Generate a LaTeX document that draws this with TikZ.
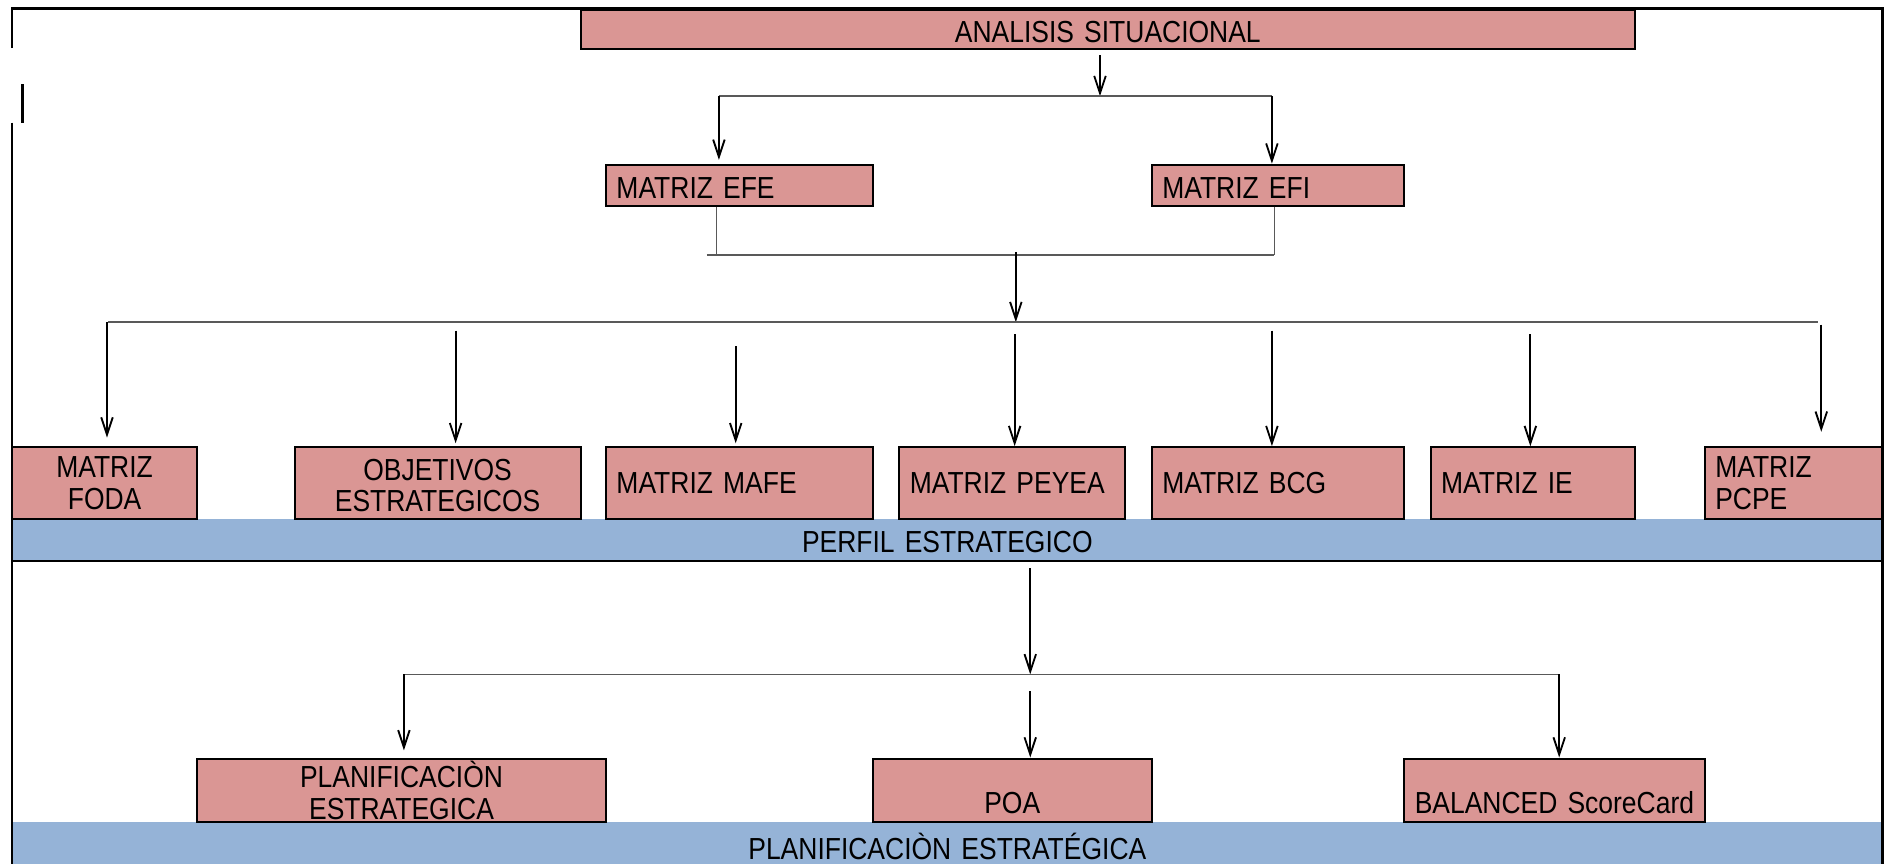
\documentclass[tikz,border=0pt]{standalone}
\usepackage{fontspec}
\setmainfont{Liberation Sans}
\newfontfamily\angosta[FakeStretch=0.87, WordSpace=0.8]{Liberation Sans}
\usetikzlibrary{arrows.meta, positioning, calc}
\definecolor{rojocaja}{RGB}{218,150,148}
\definecolor{azulbarra}{RGB}{149,179,215}
\tikzset{
  caja/.style={draw, line width=0.6pt, fill=rojocaja, inner xsep=0.11cm, inner ysep=0pt, font=\angosta\fontsize{9}{9.25}\selectfont},
  barra/.style={fill=azulbarra, inner xsep=0.11cm, inner ysep=0pt, text width=19.23cm, align=center, font=\angosta\fontsize{9}{9.25}\selectfont},
  flecha/.style={-{Straight Barb[length=1.8mm,width=1.2mm]}, line width=0.55pt},
  linea/.style={black!65, line width=0.45pt},
  marco/.style={line width=0.8pt},
}

\begin{document}
\begin{tikzpicture}
\useasboundingbox (0,0) rectangle (19.6,8.9875);

% barras azules
\node[barra, text height=0.35cm, text depth=0.075cm] (perfil) at (9.85,3.375) {PERFIL ESTRATEGICO};
\node[barra, text height=0.3875cm, text depth=0.05cm] (planbar) at (9.85,0.21875) {PLANIFICACIÒN ESTRATÉGICA};

% cajas
\node[caja, text width=10.7425cm, align=center, text height=0.3375cm, text depth=0.075cm] (analisis) at (11.519,8.681) {ANALISIS SITUACIONAL};
\node[caja, text width=2.555cm, align=left, text height=0.355cm, text depth=0.07cm] (efe) at (7.6875,7.0625) {MATRIZ EFE};
\node[caja, text width=2.405cm, align=left, text height=0.355cm, text depth=0.07cm] (efi) at (13.2875,7.0625) {MATRIZ EFI};

\node[caja, text width=1.705cm, align=center, minimum height=0.75cm] (foda) at (1.0875,3.9625) {MATRIZ\\FODA};
\node[caja, text width=2.755cm, align=center, text height=0.3425cm, text depth=0.4075cm] (obj) at (4.55,3.9625) {OBJETIVOS\\ESTRATEGICOS};
\node[caja, text width=2.555cm, align=left, minimum height=0.75cm] (mafe) at (7.6875,3.9625) {MATRIZ MAFE};
\node[caja, text width=2.13cm, align=left, minimum height=0.75cm] (peyea) at (10.525,3.9625) {MATRIZ PEYEA};
\node[caja, text width=2.405cm, align=left, minimum height=0.75cm] (bcg) at (13.2875,3.9625) {MATRIZ BCG};
\node[caja, text width=1.905cm, align=left, minimum height=0.75cm] (ie) at (15.9375,3.9625) {MATRIZ IE};
\node[caja, text width=1.63cm, align=left, minimum height=0.75cm] (pcpe) at (18.65,3.9625) {MATRIZ\\PCPE};

\node[caja, text width=4.03cm, align=center, minimum height=0.6625cm] (plan) at (4.175,0.76875) {PLANIFICACIÒN\\ESTRATEGICA};
\node[caja, text width=2.68cm, align=center, text height=0.575cm, text depth=0.0875cm] (poa) at (10.525,0.76875) {POA};
\node[caja, text width=2.905cm, align=center, text height=0.575cm, text depth=0.0875cm] (bsc) at (16.1625,0.76875) {BALANCED ScoreCard};

% marco
\draw[marco] (0.125,8.4875) -- (0.125,8.9) -- (19.575,8.9) -- (19.575,0);
\draw[marco] (0.2375,8.1125) -- (0.2375,7.7125);
\draw[marco] (0.125,7.7125) -- (0.125,0);
\draw[marco] (perfil.south west) -- (perfil.south east);

% analisis -> efe / efi
\coordinate (j1m) at (11.4375,7.9875);
\coordinate (j1l) at (7.475,7.9875);
\coordinate (j1r) at (13.225,7.9875);
\draw[flecha, shorten <=0.05cm] (analisis.south -| j1m) -- (j1m);
\draw[linea] (j1l) -- (j1r);
\draw[flecha, shorten >=0.04cm] (j1l) -- (efe.north -| j1l);
\draw[flecha] (j1r) -- (efi.north -| j1r);

% efe / efi -> matrices
\coordinate (j2l) at (7.45,6.3375);
\coordinate (j2r) at (13.25,6.3375);
\coordinate (j2m) at (10.5625,6.3375);
\coordinate (j3m) at (10.5625,5.6375);
\coordinate (j3l) at (1.125,5.6375);
\coordinate (j3r) at (18.9,5.6375);
\draw[linea] (efe.south -| j2l) -- (j2l);
\draw[linea] (efi.south -| j2r) -- (j2r);
\draw[linea] ($(j2l)+(-0.1,0)$) -- (j2r);
\draw[flecha] ($(j2m)+(0,0.03)$) -- (j3m);
\draw[linea, line width=0.6pt] (j3l) -- (j3r);
\foreach \n/\x/\y/\g in {foda/1.1125/5.6375/0.09, obj/4.7375/5.55/0.03, mafe/7.65/5.3875/0.03, peyea/10.55/5.5125/0, bcg/13.225/5.55/0, ie/15.9125/5.5125/0, pcpe/18.9375/5.6125/0.15}
  \draw[flecha, shorten >=\g cm] (\x,\y) coordinate (ini) -- (\n.north -| ini);

% perfil -> planificacion
\coordinate (j4m) at (10.7125,1.975);
\coordinate (j4l) at (4.2,1.975);
\coordinate (j4r) at (16.2125,1.975);
\draw[flecha, shorten <=0.075cm] (perfil.south -| j4m) -- (j4m);
\draw[linea] (j4l) -- (j4r);
\draw[flecha, shorten >=0.075cm] (j4l) -- (plan.north -| j4l);
\draw[flecha, shorten <=0.175cm] (j4m) -- (poa.north -| j4m);
\draw[flecha] (j4r) -- (bsc.north -| j4r);
\end{tikzpicture}
\end{document}
